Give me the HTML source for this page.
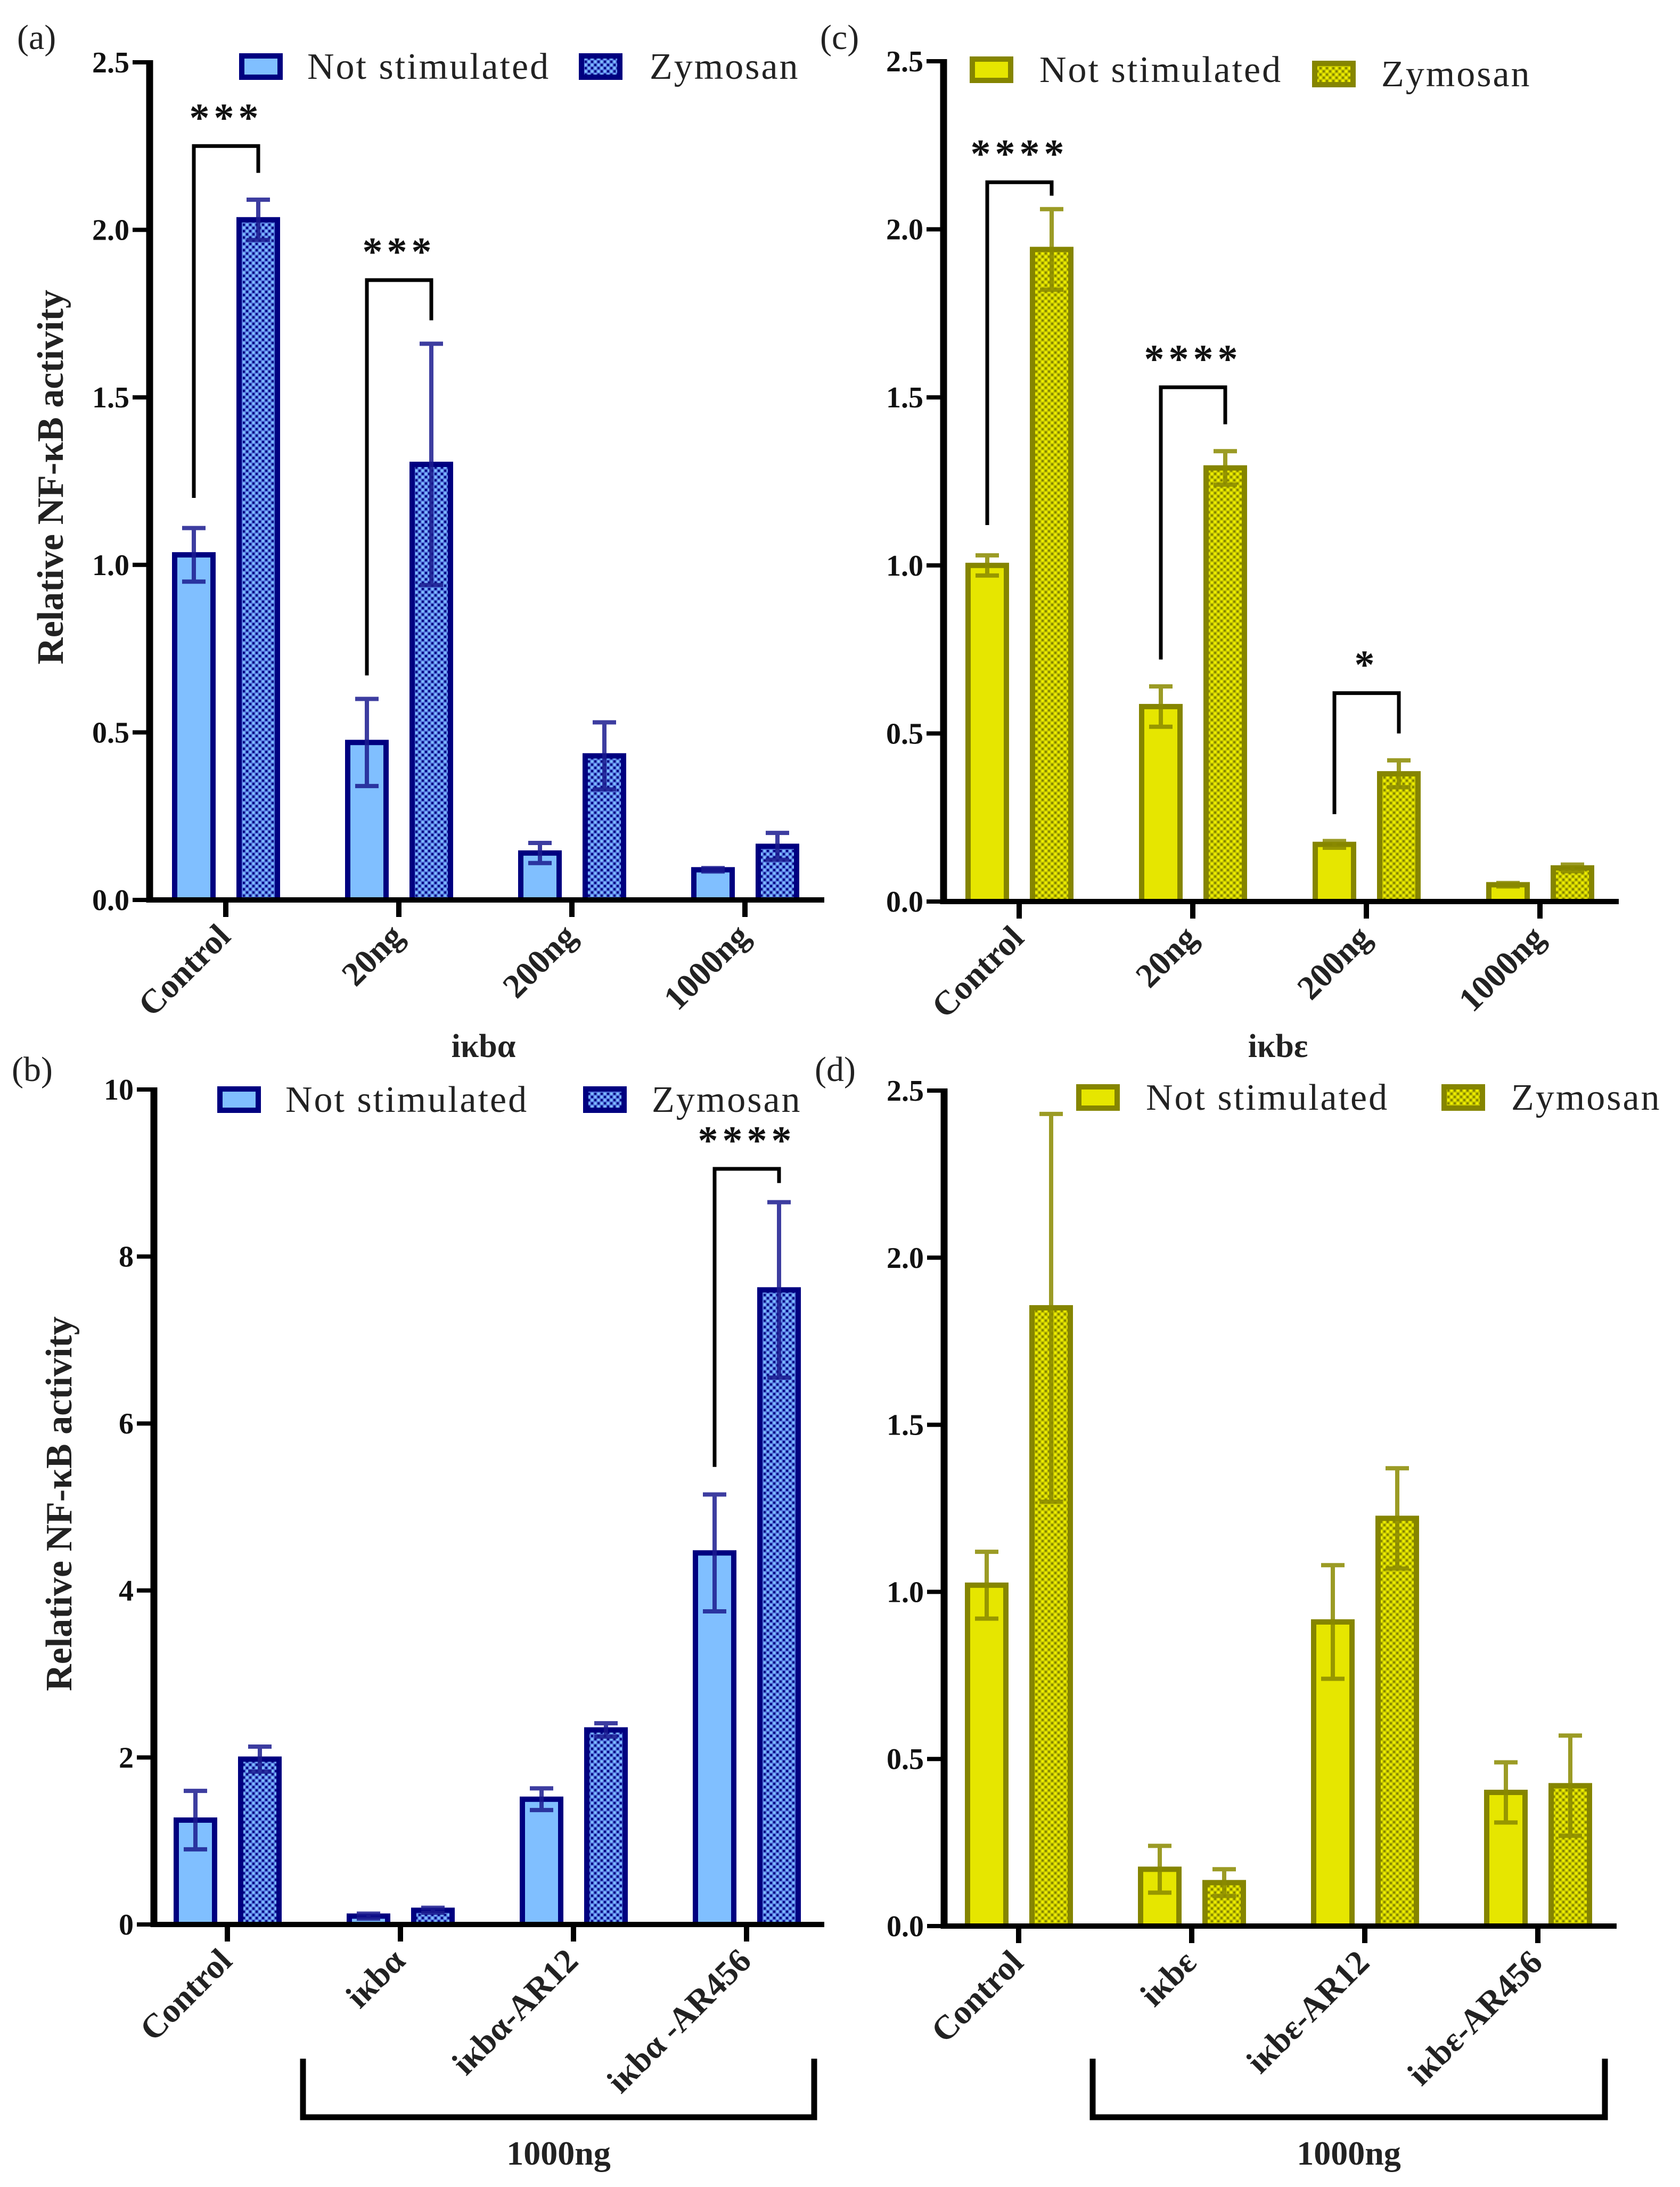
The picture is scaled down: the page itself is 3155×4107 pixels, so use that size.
<!DOCTYPE html>
<html><head><meta charset="utf-8">
<style>
html,body{margin:0;padding:0;background:#fff;}
svg{display:block;}
text{font-family:"Liberation Serif",serif;}
</style></head>
<body>
<svg id="fig" width="3155" height="4107" viewBox="0 0 3155 4107" xmlns="http://www.w3.org/2000/svg">
<defs>
<pattern id="patBlue" width="12" height="12" patternUnits="userSpaceOnUse">
<rect width="12" height="12" fill="#5578dd"/>
<rect x="0" y="0" width="4" height="4" fill="#000080"/><rect x="6" y="6" width="4" height="4" fill="#000080"/>
<rect x="6" y="0" width="4" height="4" fill="#80c0ff"/><rect x="0" y="6" width="4" height="4" fill="#80c0ff"/>
</pattern>
<pattern id="patYel" width="12" height="12" patternUnits="userSpaceOnUse">
<rect width="12" height="12" fill="#c8c800"/>
<rect x="0" y="0" width="4" height="4" fill="#868600"/><rect x="6" y="6" width="4" height="4" fill="#868600"/>
<rect x="6" y="0" width="4" height="4" fill="#f0f000"/><rect x="0" y="6" width="4" height="4" fill="#f0f000"/>
</pattern>
</defs>
</svg>
<script>
// ---- data ----
const catsA = ["Control","20ng","200ng","1000ng"];
const nsA = [1.03,0.47,0.14,0.09];
const nsErrA = [0.08,0.13,0.03,0.005];
const zyA = [2.03,1.30,0.43,0.16];
const zyErrA = [0.06,0.36,0.10,0.04];
const ticksA = [0,0.5,1.0,1.5,2.0,2.5];
const tickLabelsA = ["0.0","0.5","1.0","1.5","2.0","2.5"];

const catsB = ["Control","iκbα","iκbα-AR12","iκbα -AR456"];
const nsB = [1.25,0.10,1.50,4.45];
const nsErrB = [0.35,0.03,0.13,0.70];
const zyB = [1.98,0.17,2.33,7.60];
const zyErrB = [0.15,0.03,0.08,1.05];
const ticksB = [0,2,4,6,8,10];
const tickLabelsB = ["0","2","4","6","8","10"];

const catsC = ["Control","20ng","200ng","1000ng"];
const nsC = [1.00,0.58,0.17,0.05];
const nsErrC = [0.03,0.06,0.01,0.005];
const zyC = [1.94,1.29,0.38,0.10];
const zyErrC = [0.12,0.05,0.04,0.01];
const ticksC = ticksA;
const tickLabelsC = tickLabelsA;

const catsD = ["Control","iκbε","iκbε-AR12","iκbε-AR456"];
const nsD = [1.02,0.17,0.91,0.40];
const nsErrD = [0.10,0.07,0.17,0.09];
const zyD = [1.85,0.13,1.22,0.42];
const zyErrD = [0.58,0.04,0.15,0.15];
const ticksD = ticksA;
const tickLabelsD = tickLabelsA;

// significance: [categoryIndex, leftBottom, top, rightBottom, label]
const sigA = [[0,1.20,2.25,2.17,"***"],[1,0.67,1.85,1.73,"***"]];
const sigB = [[3,5.48,9.05,8.88,"****"]];
const sigC = [[0,1.12,2.14,2.10,"****"],[1,0.72,1.53,1.42,"****"],[2,0.26,0.62,0.50,"*"]];
const sigD = [];

const svg = document.getElementById('fig');
const NS = "http://www.w3.org/2000/svg";
function mk(tag, attrs, parent){
  const e = document.createElementNS(NS, tag);
  for (const k in attrs) e.setAttribute(k, attrs[k]);
  (parent||svg).appendChild(e);
  return e;
}

function panel(p){
  const g = mk('g', {});
  
  
  const y = v => p.y0 - (v / p.ymax) * (p.y0 - p.yTop);
  const x = i => p.tick0 + i * p.tickStep;
  const pl = mk('text', {x:p.labelX, y:p.labelY, 'font-size':66, fill:'#222'}, g);
  pl.textContent = '(' + p.id + ')';
  
  
  for (let i = 0; i < p.cats.length; i++){
    [[p.ns, p.nsErr, -60, p.light, 'not-stimulated'], [p.zy, p.zyErr, 61, p.pat, 'zymosan']].forEach(s => {
      const cx = x(i) + s[2];
      const v = s[0][i], e = s[1][i];
      const top = y(v);
      const r = mk('rect', {x:cx-36, y:top, width:72, height:p.y0-top, fill:s[3], stroke:p.dark, 'stroke-width':10}, g);
      
      
      const eg = mk('g', {stroke:p.err, 'stroke-width':8, opacity:0.85}, g);
      
      
      mk('line', {x1:cx, x2:cx, y1:y(v+e), y2:y(Math.max(0,v-e))}, eg);
      mk('line', {x1:cx-22, x2:cx+22, y1:y(v+e), y2:y(v+e)}, eg);
      mk('line', {x1:cx-22, x2:cx+22, y1:y(Math.max(0,v-e)), y2:y(Math.max(0,v-e))}, eg);
    });
  }
  const ya = mk('line', {x1:p.axisX, x2:p.axisX, y1:p.yTop-4, y2:p.y0+5, stroke:'#000', 'stroke-width':13}, g);
  
  
  const xa = mk('line', {x1:p.axisX-6, x2:p.xEnd, y1:p.y0, y2:p.y0, stroke:'#000', 'stroke-width':10}, g);
  
  
  p.ticks.forEach((t, k) => {
    mk('line', {x1:p.axisX-32, x2:p.axisX, y1:y(t), y2:y(t), stroke:'#000', 'stroke-width':8}, g);
    const tl = mk('text', {x:p.axisX-38, y:y(t)+19, 'text-anchor':'end', 'font-size':56, 'font-weight':'bold', fill:'#111'}, g);
    tl.textContent = p.tickLabels[k];
    
    
  });
  p.cats.forEach((c, i) => {
    mk('line', {x1:x(i), x2:x(i), y1:p.y0, y2:p.y0+32, stroke:'#000', 'stroke-width':10}, g);
    const tx = x(i) + 12, ty = p.y0 + 72;
    const cl = mk('text', {x:tx, y:ty, 'text-anchor':'end', 'font-size':64, 'font-weight':'bold', fill:'#222', transform:'rotate(-45 '+tx+' '+ty+')'}, g);
    cl.textContent = c;
    
    
  });
  if (p.yTitleX){
    const yt = mk('text', {x:p.yTitleX, y:p.yTitleY, 'text-anchor':'middle', 'font-size':70, 'font-weight':'bold', fill:'#222', transform:'rotate(-90 '+p.yTitleX+' '+p.yTitleY+')'}, g);
    yt.textContent = 'Relative NF-κB activity';
    
    
  }
  if (p.xTitle){
    const xt = mk('text', {x:p.xTitle[0], y:p.xTitle[1], 'text-anchor':'middle', 'font-size':62, 'font-weight':'bold', fill:'#222'}, g);
    xt.textContent = p.xTitle[2];
    
    
  }
  p.legend.forEach((L, k) => {
    const lg = mk('g', {}, g);
    
    
    mk('rect', {x:L[0]+5, y:L[1]+5, width:72, height:40, fill:k===0?p.light:p.pat, stroke:p.dark, 'stroke-width':10}, lg);
    const t = mk('text', {x:L[2], y:L[1]+48, 'font-size':70, 'letter-spacing':3, fill:'#222'}, lg);
    t.textContent = k === 0 ? 'Not stimulated' : 'Zymosan';
  });
  p.sig.forEach(s => {
    const lx = x(s[0]) - 60, rx = x(s[0]) + 61;
    const sg = mk('g', {}, g);
    
    
    mk('polyline', {points: lx+','+y(s[1])+' '+lx+','+y(s[2])+' '+rx+','+y(s[2])+' '+rx+','+y(s[3]), fill:'none', stroke:'#000', 'stroke-width':7}, sg);
    const st = mk('text', {x:(lx+rx)/2, y:y(s[2])-28, 'text-anchor':'middle', 'font-size':76, 'font-weight':'bold', 'letter-spacing':'8', fill:'#111', 'font-family':'Liberation Sans, sans-serif'}, sg);
    st.textContent = s[4];
  });
  if (p.bracket){
    const b = p.bracket;
    const bg = mk('g', {}, g);
    
    
    mk('polyline', {points: b[0]+','+b[2]+' '+b[0]+','+b[3]+' '+b[1]+','+b[3]+' '+b[1]+','+b[2], fill:'none', stroke:'#000', 'stroke-width':11}, bg);
    const bt = mk('text', {x:(b[0]+b[1])/2, y:b[4], 'text-anchor':'middle', 'font-size':64, 'font-weight':'bold', fill:'#222'}, bg);
    bt.textContent = '1000ng';
  }
}

const blue = {light:'#80bfff', pat:'url(#patBlue)', dark:'#000080', err:'#1c1c90'};
const yel = {light:'#e6e600', pat:'url(#patYel)', dark:'#858500', err:'#8a8a00'};

panel(Object.assign({id:'a', cats:catsA, ns:nsA, nsErr:nsErrA, zy:zyA, zyErr:zyErrA, ticks:ticksA, tickLabels:tickLabelsA, sig:sigA,
  ymax:2.5, y0:1690, yTop:117, axisX:281, xEnd:1548, tick0:424, tickStep:325,
  labelX:32, labelY:92, yTitleX:118, yTitleY:896, xTitle:[908,1985,'iκbα'],
  legend:[[449,100,577],[1087,100,1220]]}, blue));
panel(Object.assign({id:'b', cats:catsB, ns:nsB, nsErr:nsErrB, zy:zyB, zyErr:zyErrB, ticks:ticksB, tickLabels:tickLabelsB, sig:sigB,
  ymax:10, y0:3614, yTop:2046, axisX:289, xEnd:1548, tick0:427, tickStep:325,
  labelX:22, labelY:2030, yTitleX:134, yTitleY:2824,
  legend:[[408,2040,536],[1095,2040,1224]], bracket:[569,1529,3866,3976,4065]}, blue));
panel(Object.assign({id:'c', cats:catsC, ns:nsC, nsErr:nsErrC, zy:zyC, zyErr:zyErrC, ticks:ticksC, tickLabels:tickLabelsC, sig:sigC,
  ymax:2.5, y0:1693, yTop:115, axisX:1772, xEnd:3040, tick0:1914, tickStep:326,
  labelX:1540, labelY:92, xTitle:[2400,1985,'iκbε'],
  legend:[[1821,106,1952],[2464,114,2594]]}, yel));
panel(Object.assign({id:'d', cats:catsD, ns:nsD, nsErr:nsErrD, zy:zyD, zyErr:zyErrD, ticks:ticksD, tickLabels:tickLabelsD, sig:sigD,
  ymax:2.5, y0:3617, yTop:2048, axisX:1773, xEnd:3036, tick0:1913, tickStep:325,
  labelX:1530, labelY:2030,
  legend:[[2021,2036,2152],[2707,2036,2838]], bracket:[2052,3014,3866,3976,4065]}, yel));
</script>
</body></html>
